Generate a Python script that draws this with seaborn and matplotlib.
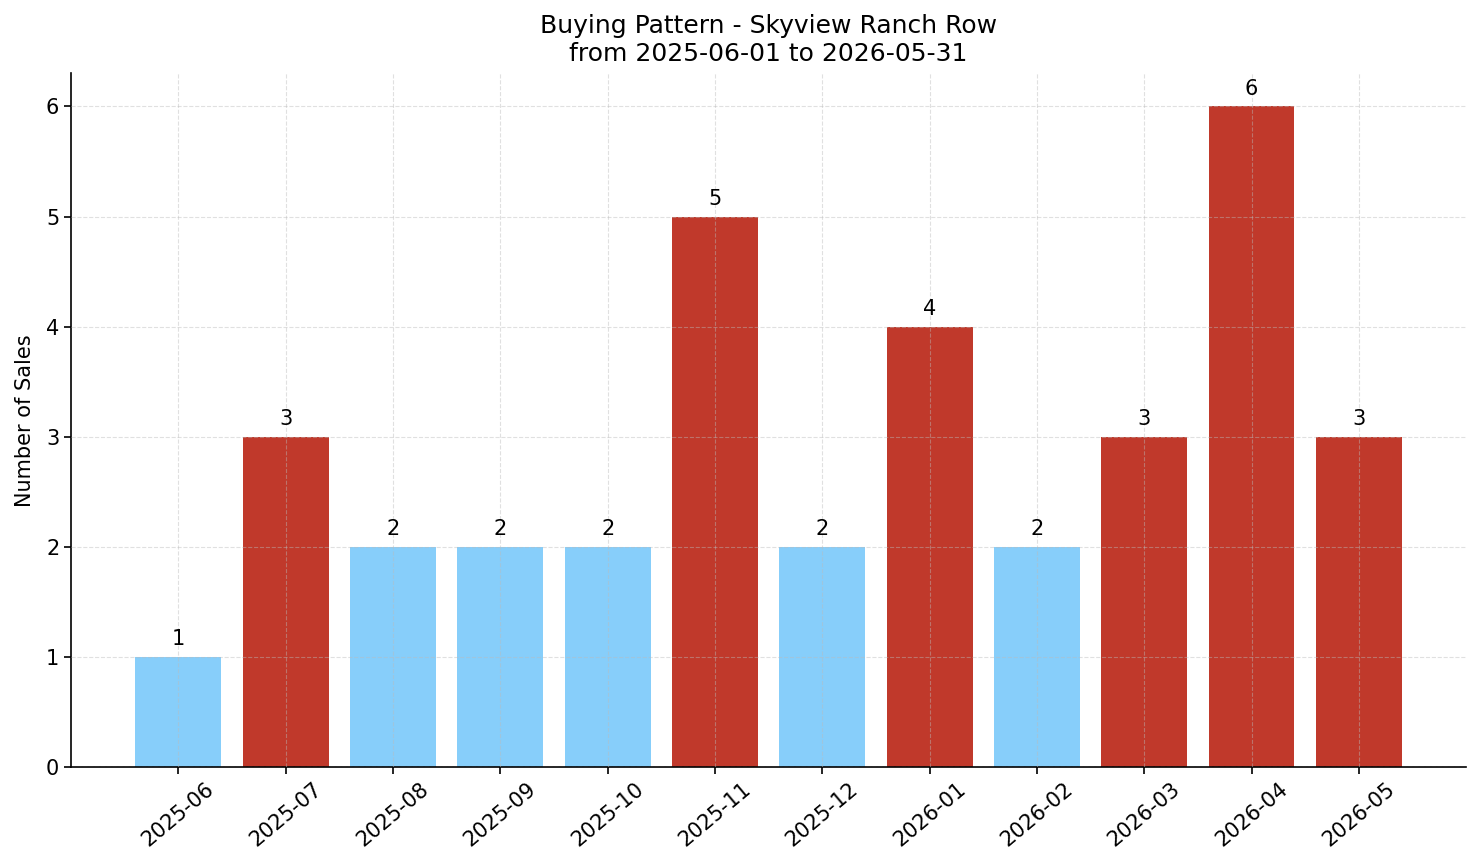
import seaborn as sns
import matplotlib.pyplot as plt

months = ["2025-06", "2025-07", "2025-08", "2025-09", "2025-10", "2025-11",
          "2025-12", "2026-01", "2026-02", "2026-03", "2026-04", "2026-05"]
sales = [1, 3, 2, 2, 2, 5, 2, 4, 2, 3, 6, 3]

# meses con mas de 2 ventas en rojo
colors = ["#C0392B" if s > 2 else "#87CEFA" for s in sales]

sns.set_style("ticks")
plt.rcParams["text.color"] = "black"
plt.rcParams["axes.labelcolor"] = "black"
plt.rcParams["xtick.color"] = "black"
plt.rcParams["ytick.color"] = "black"

fig, ax = plt.subplots(figsize=(14.81, 8.63), dpi=100)

sns.barplot(x=months, y=sales, hue=months, palette=colors, legend=False,
            saturation=1, width=0.8, linewidth=0, ax=ax)

for i, s in enumerate(sales):
    ax.text(i, s + 0.07, str(s), ha="center", va="bottom", fontsize=15)

ax.set_xlim(-1, 12)
ax.set_ylim(0, 6.3)
ax.set_axisbelow(False)
ax.grid(True, linestyle="--", color="#bbbbbb", alpha=0.45, linewidth=0.8)
ax.set_ylabel("Number of Sales", fontsize=15, labelpad=8)
ax.set_xlabel("")
ax.set_title("Buying Pattern - Skyview Ranch Row\nfrom 2025-06-01 to 2026-05-31", fontsize=18, pad=9)
ax.tick_params(axis="both", labelsize=15, width=1.2, length=5)
plt.setp(ax.get_xticklabels(), rotation=40, ha="center")
sns.despine(ax=ax)
for sp in ["left", "bottom"]:
    ax.spines[sp].set_linewidth(1.2)
    ax.spines[sp].set_color("black")

fig.subplots_adjust(left=0.048, right=0.99, top=0.915, bottom=0.111)
fig.savefig("out.png", dpi=100)
